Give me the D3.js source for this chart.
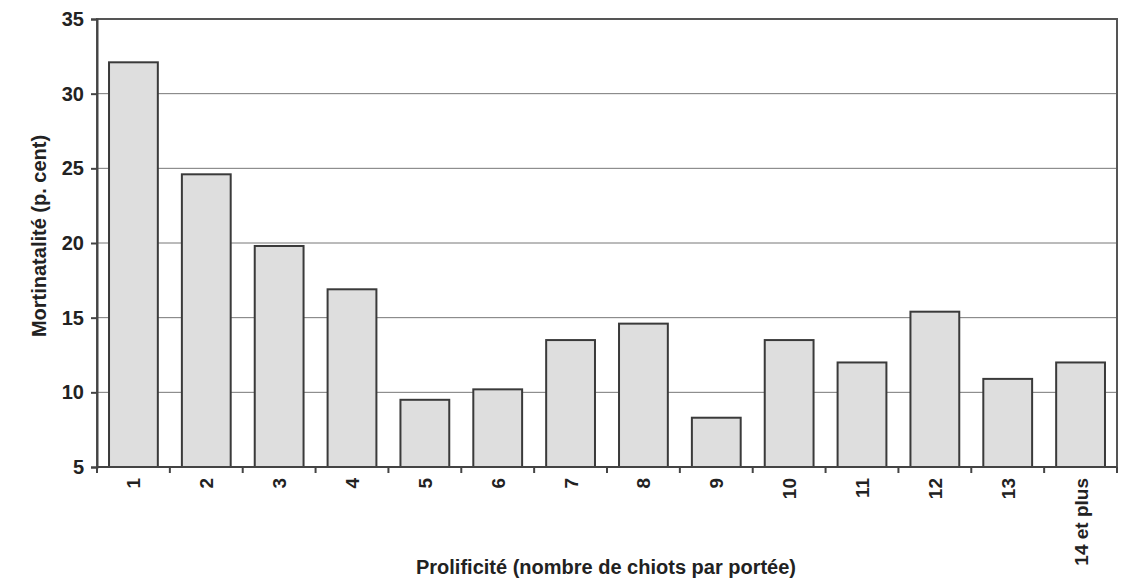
<!DOCTYPE html>
<html><head><meta charset="utf-8">
<script src="https://cdn.jsdelivr.net/npm/d3@7"></script>
<style>body{margin:0;background:#fff}svg{display:block}text{font-family:"Liberation Sans",Arial,sans-serif;font-weight:bold;fill:#222}</style>
</head><body><svg id="c" width="1121" height="581"></svg>
<script>
const categories = ["1","2","3","4","5","6","7","8","9","10","11","12","13","14 et plus"];
const values = [32.1, 24.6, 19.8, 16.9, 9.5, 10.2, 13.5, 14.6, 8.3, 13.5, 12.0, 15.4, 10.9, 12.0];
const yTicks = [5, 10, 15, 20, 25, 30, 35];
const yLabel = "Mortinatalité (p. cent)";
const xLabel = "Prolificité (nombre de chiots par portée)";

const svg = d3.select("#c");
const L = 97, R = 1117, T = 19, B = 467;
const x = d3.scaleBand().domain(categories).range([L, R]).paddingInner(0.33).paddingOuter(0.165);
const xb = d3.scaleBand().domain(categories).range([L, R]);
const y = d3.scaleLinear().domain([5, 35]).range([B, T]);

// gridlines
svg.append("g").selectAll("line").data(yTicks.filter(d => d > 5 && d < 35)).join("line")
  .attr("x1", L).attr("x2", R).attr("y1", d => y(d)).attr("y2", d => y(d))
  .attr("stroke", "#777").attr("stroke-width", 1);

// bars
svg.append("g").selectAll("rect").data(values).join("rect")
  .attr("x", (d, i) => x(categories[i])).attr("width", x.bandwidth())
  .attr("y", d => y(d)).attr("height", d => B - y(d))
  .attr("fill", "#dedede").attr("stroke", "#3a3a3a").attr("stroke-width", 2);

// frame
svg.append("rect").attr("x", L).attr("y", T).attr("width", R - L).attr("height", B - T)
  .attr("fill", "none").attr("stroke", "#555").attr("stroke-width", 2);

// y axis
const ya = svg.append("g").attr("transform", `translate(${L},0)`)
  .call(d3.axisLeft(y).tickValues(yTicks).tickSize(6).tickPadding(7));
ya.select(".domain").attr("stroke", "#444").attr("stroke-width", 2);
ya.selectAll(".tick line").attr("stroke", "#444").attr("stroke-width", 2);
ya.selectAll(".tick text").attr("font-size", 20).attr("font-family", "Liberation Sans, Arial, sans-serif").attr("font-weight", "bold").attr("fill", "#222");

// x axis ticks at band boundaries
const bounds = categories.map(c => xb(c)).concat([R]);
svg.append("g").selectAll("line").data(bounds).join("line")
  .attr("x1", d => d).attr("x2", d => d).attr("y1", B).attr("y2", B + 6)
  .attr("stroke", "#444").attr("stroke-width", 2);
svg.append("line").attr("x1", L).attr("x2", R).attr("y1", B).attr("y2", B).attr("stroke", "#444").attr("stroke-width", 2);

// x labels
svg.append("g").selectAll("text").data(categories).join("text")
  .attr("transform", d => `translate(${xb(d) + xb.bandwidth()/2 + 7},${B + 11}) rotate(-90)`)
  .attr("text-anchor", "end").attr("font-size", 19).text(d => d);

// axis titles
svg.append("text").attr("transform", `translate(46,236) rotate(-90)`)
  .attr("text-anchor", "middle").attr("font-size", 20).text(yLabel);
svg.append("text").attr("x", 606).attr("y", 574)
  .attr("text-anchor", "middle").attr("font-size", 20).text(xLabel);
</script></body></html>
